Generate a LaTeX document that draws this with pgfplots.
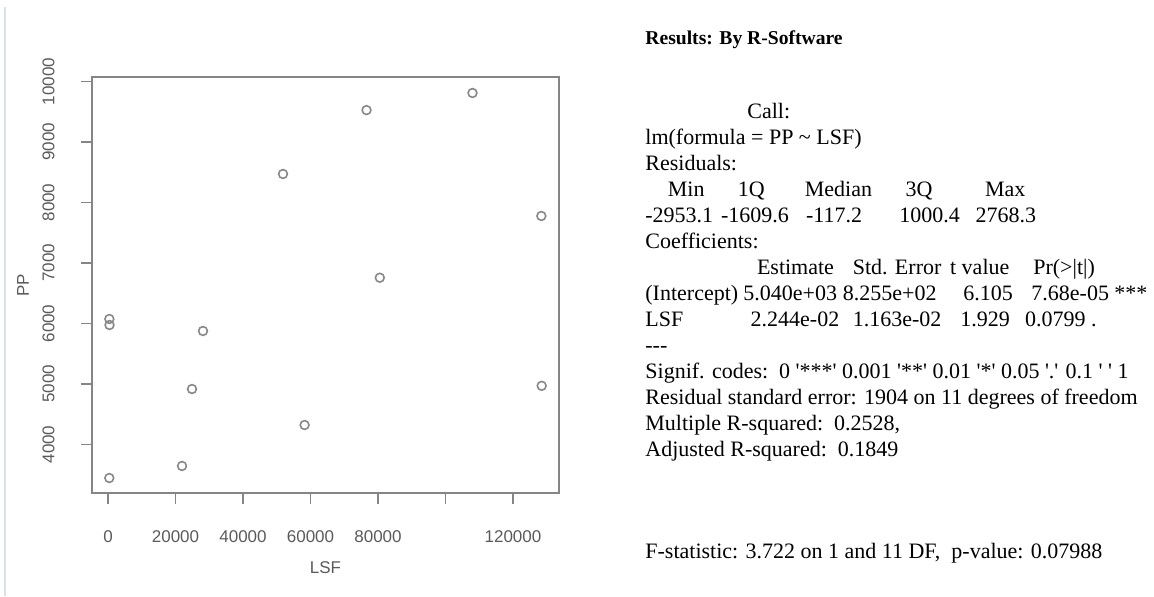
\documentclass[border=0pt]{standalone}
\usepackage{fontspec}
\setmainfont{Liberation Serif}
\newfontfamily\rfont{Liberation Sans}
\usepackage{pgfplots}
\usepackage{pgfplotstable}
\pgfplotsset{compat=1.18}

\definecolor{framegray}{HTML}{858585}
\definecolor{pointgray}{HTML}{888888}
\definecolor{labelgray}{HTML}{5A5A5A}
\definecolor{edgeline}{HTML}{DCE1E8}
\newcommand\q{\textquotesingle}
% text line placed by its baseline, in pixel units (1px = 0.5pt, y measured downwards)
\newcommand\T[3]{\node[anchor=base west, inner sep=0pt] at ({#1*0.5pt},{-#2*0.5pt}) {#3};}

% LSF against PP, thirteen observations
\pgfplotstableread{
LSF    PP
76600  9527
108000 9810
51850  8471
128400 7777
80530  6757
400    6074
450    5975
28150  5876
24890  4917
58250  4322
21930  3645
384    3446
128500 4970
}\lsfdata

\begin{document}
\begin{tikzpicture}
\path[use as bounding box] (0pt,0pt) rectangle (577pt,-298pt);
\draw[edgeline, line width=0.6pt] (2.5pt,-3.5pt) -- (2.5pt,-298pt);

\begin{axis}[
  at={(46pt,-246.5pt)}, anchor=south west,
  scale only axis, width=233.5pt, height=208pt,
  xmin=-4741, xmax=133630, ymin=3198, ymax=10074,
  scaled x ticks=false, scaled y ticks=false,
  axis line style={framegray, line width=0.8pt},
  tick style={framegray, line width=0.8pt},
  tick align=outside, major tick length=5.5pt,
  xtick={0,20000,40000,60000,80000,100000,120000},
  xticklabels={0,20000,40000,60000,80000,,120000},
  ytick={4000,5000,6000,7000,8000,9000,10000},
  yticklabels={4000,5000,6000,7000,8000,9000,10000},
  xtick pos=left, ytick pos=left,
  ticklabel style={font=\rfont\fontsize{8.5}{10}\selectfont, text=labelgray, inner sep=0pt},
  xticklabel style={anchor=north},
  yticklabel style={rotate=90, anchor=south},
  xticklabel shift=13pt, yticklabel shift=13pt,
  xlabel={LSF}, ylabel={PP},
  label style={font=\rfont\fontsize{8.5}{10}\selectfont, text=labelgray, inner sep=0pt},
  xlabel style={at={(axis description cs:0.5,-0.1803)}, anchor=center},
  ylabel style={at={(axis description cs:-0.1478,0.5)}, anchor=center},
]
\addplot[only marks, mark=o, mark size=2.2pt, pointgray,
         mark options={line width=0.8pt}] table[x=LSF, y=PP] {\lsfdata};
\end{axis}

\fontsize{11}{13}\selectfont
\T{645}{44}{\fontsize{9.8}{12}\selectfont\bfseries Results: By R-Software}
\T{747}{118}{Call:}
\T{645}{144}{lm(formula = PP \textasciitilde\ LSF)}
\T{645}{170}{Residuals:}
\T{667.5}{196}{Min}\T{737.4}{196}{1Q}\T{804.5}{196}{Median}\T{905.2}{196}{3Q}\T{984.6}{196}{Max}
\T{645}{222}{-2953.1}\T{720.6}{222}{-1609.6}\T{805.6}{222}{-117.2}\T{899}{222}{1000.4}\T{975.2}{222}{2768.3}
\T{645}{248}{Coefficients:}
\T{756.6}{274}{Estimate}\T{852.4}{274}{Std. Error}\T{949.7}{274}{t value}\T{1032.9}{274}{Pr(\textgreater\textbar t\textbar)}
\T{645}{300}{(Intercept)}\T{743}{300}{5.040e+03}\T{842.5}{300}{8.255e+02}\T{963}{300}{6.105}\T{1031}{300}{7.68e-05}\T{1114}{300}{***}
\T{645}{326}{LSF}\T{750.3}{326}{2.244e-02}\T{852.4}{326}{1.163e-02}\T{960}{326}{1.929}\T{1024.8}{326}{0.0799 .}
\T{645}{352}{-{}-{}-}
\T{645}{378}{Signif. codes:\ \ 0 \q***\q{} 0.001 \q**\q{} 0.01 \q*\q{} 0.05 \q.\q{} 0.1 \q\ \q{} 1}
\T{645}{404}{Residual standard error: 1904 on 11 degrees of freedom}
\T{645}{430}{Multiple R-squared:\ \ 0.2528,}
\T{645}{456}{Adjusted R-squared:\ \ 0.1849}
\T{645}{558}{F-statistic: 3.722 on 1 and 11 DF,\ \ p-value: 0.07988}
\end{tikzpicture}
\end{document}
